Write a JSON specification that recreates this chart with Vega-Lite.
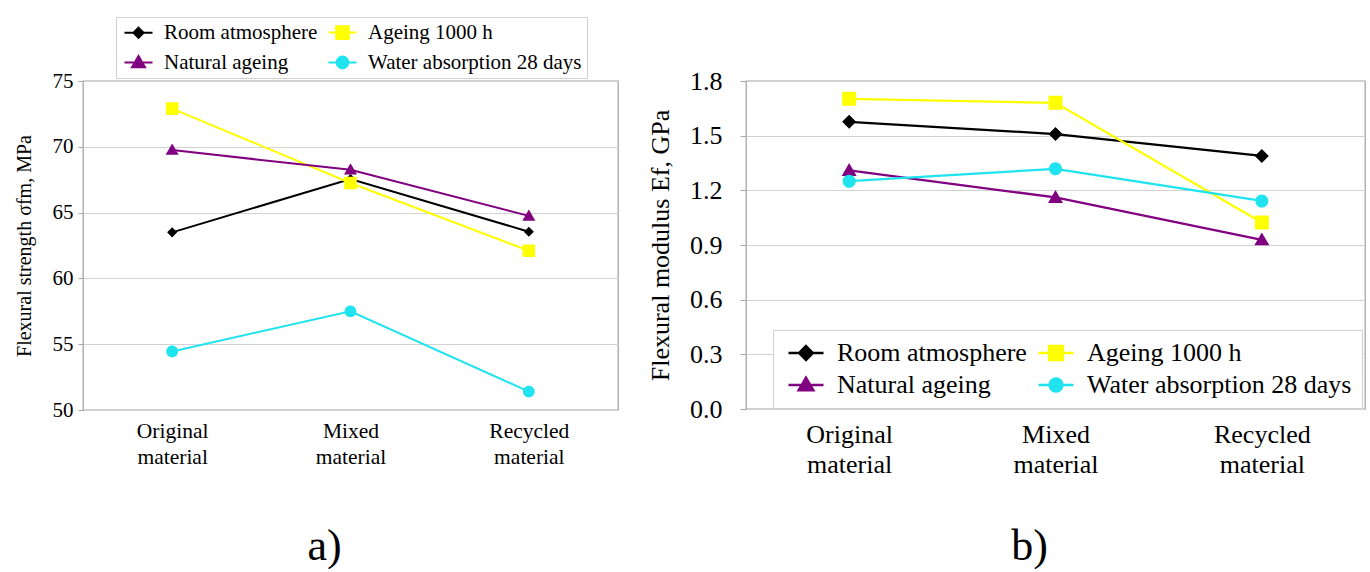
{
  "$schema": "https://vega.github.io/schema/vega-lite/v6.json",
  "background": "white",
  "padding": {"left": 13, "top": 15, "right": 4, "bottom": 0},
  "bounds": "flush",
  "spacing": 128,
  "config": {
    "font": "Liberation Serif",
    "view": {"stroke": "#a6a6a6", "strokeWidth": 1.3},
    "axis": {
      "labelFont": "Liberation Serif",
      "titleFont": "Liberation Serif",
      "labelColor": "#000000",
      "titleColor": "#000000",
      "titleFontWeight": "normal",
      "domain": false,
      "tickColor": "#a6a6a6",
      "gridColor": "#d2d2d2",
      "gridWidth": 1.2
    },
    "legend": {
      "labelFont": "Liberation Serif",
      "labelColor": "#000000",
      "labelLimit": 400,
      "strokeColor": "#d0d0d0",
      "fillColor": "white"
    }
  },
  "datasets": {
    "strength": [
      {"material": "Original material", "series": "Room atmosphere", "value": 63.5},
      {"material": "Mixed material", "series": "Room atmosphere", "value": 67.55},
      {"material": "Recycled material", "series": "Room atmosphere", "value": 63.55},
      {"material": "Original material", "series": "Ageing 1000 h", "value": 72.9},
      {"material": "Mixed material", "series": "Ageing 1000 h", "value": 67.25},
      {"material": "Recycled material", "series": "Ageing 1000 h", "value": 62.1},
      {"material": "Original material", "series": "Natural ageing", "value": 69.75},
      {"material": "Mixed material", "series": "Natural ageing", "value": 68.25},
      {"material": "Recycled material", "series": "Natural ageing", "value": 64.75},
      {"material": "Original material", "series": "Water absorption 28 days", "value": 54.45},
      {"material": "Mixed material", "series": "Water absorption 28 days", "value": 57.5},
      {"material": "Recycled material", "series": "Water absorption 28 days", "value": 51.4}
    ],
    "modulus": [
      {"material": "Original material", "series": "Room atmosphere", "value": 1.576},
      {"material": "Mixed material", "series": "Room atmosphere", "value": 1.509},
      {"material": "Recycled material", "series": "Room atmosphere", "value": 1.389},
      {"material": "Original material", "series": "Ageing 1000 h", "value": 1.702},
      {"material": "Mixed material", "series": "Ageing 1000 h", "value": 1.68},
      {"material": "Recycled material", "series": "Ageing 1000 h", "value": 1.023},
      {"material": "Original material", "series": "Natural ageing", "value": 1.309},
      {"material": "Mixed material", "series": "Natural ageing", "value": 1.161},
      {"material": "Recycled material", "series": "Natural ageing", "value": 0.928},
      {"material": "Original material", "series": "Water absorption 28 days", "value": 1.25},
      {"material": "Mixed material", "series": "Water absorption 28 days", "value": 1.318},
      {"material": "Recycled material", "series": "Water absorption 28 days", "value": 1.142}
    ]
  },
  "resolve": {
    "scale": {"color": "independent", "shape": "independent", "stroke": "independent", "x": "independent", "y": "independent"},
    "legend": {"color": "independent", "shape": "independent", "stroke": "independent"}
  },
  "hconcat": [
    {
      "width": 535,
      "height": 329,
      "data": {"name": "strength"},
      "encoding": {
        "x": {
          "field": "material", "type": "nominal",
          "sort": ["Original material", "Mixed material", "Recycled material"],
          "scale": {"type": "point", "padding": 0.5},
          "axis": {
            "title": "a)", "titleFontSize": 44, "titleX": 241, "titleY": 149, "titleBaseline": "alphabetic",
            "labelAngle": 0, "labelExpr": "split(datum.label, ' ')",
            "labelFontSize": 21.5, "labelLineHeight": 26, "labelPadding": 10, "ticks": false
          }
        },
        "y": {
          "field": "value", "type": "quantitative",
          "scale": {"domain": [50, 75], "nice": false, "zero": false},
          "axis": {
            "values": [50, 55, 60, 65, 70, 75],
            "title": "Flexural strength σfm, MPa", "titleFontSize": 20, "titlePadding": 18,
            "labelFontSize": 21, "tickSize": 5, "labelPadding": 5
          }
        },
        "color": {
          "field": "series", "type": "nominal",
          "scale": {"domain": ["Room atmosphere", "Ageing 1000 h", "Natural ageing", "Water absorption 28 days"], "range": ["#000000", "#ffff00", "#800080", "#1fe3ee"]},
          "legend": {
            "title": null, "orient": "none", "direction": "horizontal", "legendX": 33, "legendY": -64,
            "columns": 2, "symbolSize": 196, "symbolStrokeWidth": 2, "symbolOffset": 7,
            "labelFontSize": 21, "labelOffset": 15, "columnPadding": 6, "rowPadding": 8, "padding": 5
          }
        }
      },
      "layer": [
        {
          "mark": {"type": "line", "strokeWidth": 2}
        },
        {
          "mark": {"type": "point", "filled": true, "opacity": 1, "size": 196, "strokeWidth": 0},
          "encoding": {
            "stroke": {
              "field": "series", "type": "nominal",
              "scale": {"domain": ["Room atmosphere", "Ageing 1000 h", "Natural ageing", "Water absorption 28 days"], "range": ["#000000", "#ffff00", "#800080", "#1fe3ee"]}
            },
            "shape": {
              "field": "series", "type": "nominal",
              "scale": {"domain": ["Room atmosphere", "Ageing 1000 h", "Natural ageing", "Water absorption 28 days"], "range": ["M-2,0H2M0,-0.72L0.72,0L0,0.72L-0.72,0Z", "M-2,0H2M-0.9,-0.9H0.9V0.9H-0.9Z", "M-2,0H2M0,-0.93L0.93,0.68H-0.93Z", "M-2,0H2M0.84,0A0.84,0.84,0,1,1,-0.84,0A0.84,0.84,0,1,1,0.84,0Z"]}
            }
          }
        }
      ]
    },
    {
      "width": 619,
      "height": 328,
      "data": {"name": "modulus"},
      "encoding": {
        "x": {
          "field": "material", "type": "nominal",
          "sort": ["Original material", "Mixed material", "Recycled material"],
          "scale": {"type": "point", "padding": 0.5},
          "axis": {
            "title": "b)", "titleFontSize": 44, "titleX": 283, "titleY": 150, "titleBaseline": "alphabetic",
            "labelAngle": 0, "labelExpr": "split(datum.label, ' ')",
            "labelFontSize": 26, "labelLineHeight": 30, "labelPadding": 12, "ticks": false
          }
        },
        "y": {
          "field": "value", "type": "quantitative",
          "scale": {"domain": [0, 1.8], "nice": false},
          "axis": {
            "values": [0, 0.3, 0.6, 0.9, 1.2, 1.5, 1.8], "format": ".1f",
            "title": "Flexural modulus Ef, GPa", "titleFontSize": 26, "titlePadding": 16,
            "labelFontSize": 26, "tickSize": 6, "labelPadding": 18
          }
        },
        "color": {
          "field": "series", "type": "nominal",
          "scale": {"domain": ["Room atmosphere", "Ageing 1000 h", "Natural ageing", "Water absorption 28 days"], "range": ["#000000", "#ffff00", "#800080", "#1fe3ee"]},
          "legend": {
            "title": null, "orient": "none", "direction": "horizontal", "legendX": 27, "legendY": 249,
            "columns": 2, "symbolSize": 196, "symbolStrokeWidth": 2.3, "symbolOffset": 10,
            "labelFontSize": 26, "labelOffset": 18, "columnPadding": 6, "rowPadding": 6, "padding": 10
          }
        }
      },
      "layer": [
        {
          "mark": {"type": "line", "strokeWidth": 2.3}
        },
        {
          "mark": {"type": "point", "filled": true, "opacity": 1, "size": 196, "strokeWidth": 0},
          "encoding": {
            "stroke": {
              "field": "series", "type": "nominal",
              "scale": {"domain": ["Room atmosphere", "Ageing 1000 h", "Natural ageing", "Water absorption 28 days"], "range": ["#000000", "#ffff00", "#800080", "#1fe3ee"]}
            },
            "shape": {
              "field": "series", "type": "nominal",
              "scale": {"domain": ["Room atmosphere", "Ageing 1000 h", "Natural ageing", "Water absorption 28 days"], "range": ["M-2.5,0H2.5M0,-1L1,0L0,1L-1,0Z", "M-2.5,0H2.5M-1,-1H1V1H-1Z", "M-2.5,0H2.5M0,-1.07L1.07,0.78H-1.07Z", "M-2.5,0H2.5M0.93,0A0.93,0.93,0,1,1,-0.93,0A0.93,0.93,0,1,1,0.93,0Z"]}
            }
          }
        }
      ]
    }
  ]
}
